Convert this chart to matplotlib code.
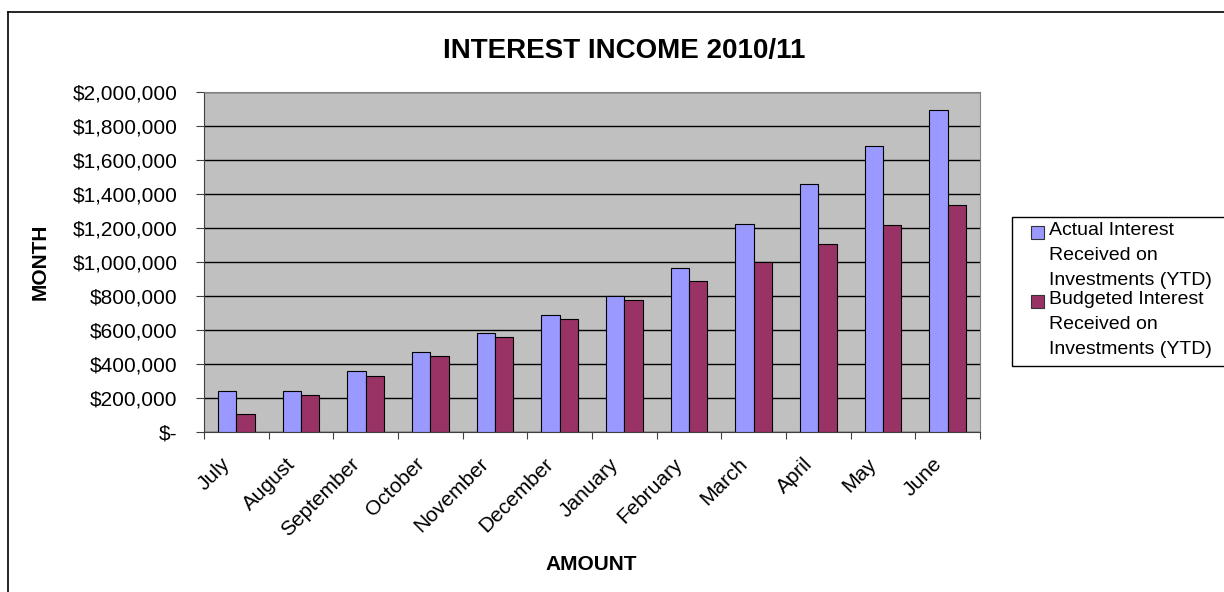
import numpy as np
import matplotlib
matplotlib.use("Agg")
import matplotlib.pyplot as plt
from matplotlib.patches import Rectangle
from matplotlib.lines import Line2D
from matplotlib.ticker import FuncFormatter, FixedLocator
from matplotlib.transforms import ScaledTranslation

plt.rcParams["font.family"] = ["Liberation Sans", "DejaVu Sans"]

# ── Data ──────────────────────────────────────────────────────────────────────
months = ["July", "August", "September", "October", "November", "December",
          "January", "February", "March", "April", "May", "June"]
actual = [241000, 241000, 359000, 470000, 580000, 688000,
          800000, 967000, 1226000, 1461000, 1682000, 1896000]
budget = [108000, 220000, 329000, 447000, 557000, 667000,
          776000, 888000, 998000, 1108000, 1218000, 1335000]
series_names = ["Actual Interest\nReceived on\nInvestments (YTD)",
                "Budgeted Interest\nReceived on\nInvestments (YTD)"]

C_ACTUAL = "#9999FF"
C_BUDGET = "#993366"
C_PLOT_BG = "#C0C0C0"

fig = plt.figure(figsize=(12.24, 5.92), dpi=100)
W, H = 1224, 592


def fx(px):
    return px / W


def fy(py):
    return 1 - py / H


# outer chart frame (cut off at right/bottom like the reference)
fig.add_artist(Line2D([fx(8), fx(8)], [0, fy(12)], color="black", lw=1.2,
                      transform=fig.transFigure))
fig.add_artist(Line2D([fx(8), 1], [fy(12), fy(12)], color="black", lw=1.2,
                      transform=fig.transFigure))

ax = fig.add_axes([fx(204), fy(432), fx(980 - 204), (432 - 92) / H])
ax.set_facecolor(C_PLOT_BG)

x = np.arange(len(months))
w = 0.283
ax.bar(x - w / 2, actual, w, color=C_ACTUAL, edgecolor="black", lw=0.8, zorder=3)
ax.bar(x + w / 2, budget, w, color=C_BUDGET, edgecolor="black", lw=0.8, zorder=3)

ax.set_xlim(-0.5, len(months) - 0.5)
ax.set_ylim(0, 2000000)
ax.set_yticks(np.arange(0, 2000001, 200000))
ax.yaxis.set_major_formatter(FuncFormatter(
    lambda v, p: "$-" if v == 0 else f"${v:,.0f}"))
ax.grid(axis="y", color="black", lw=1, zorder=1)
ax.set_axisbelow(True)

# boundary ticks on x, labels at category centres
ax.xaxis.set_major_locator(FixedLocator(np.arange(-0.5, len(months), 1.0)))
ax.xaxis.set_minor_locator(FixedLocator(x))
ax.set_xticklabels([])
ax.set_xticklabels(months, minor=True, rotation=45, ha="right", va="center",
                   rotation_mode="anchor")
ax.tick_params(axis="x", which="major", length=5, color="#404040")
ax.tick_params(axis="x", which="minor", length=0, pad=21, labelsize=15)
ax.tick_params(axis="y", length=6, color="#404040", labelsize=15, pad=13)
shift = ScaledTranslation(-9 / 100, 0, fig.dpi_scale_trans)
for lab in ax.get_xticklabels(minor=True):
    lab.set_transform(lab.get_transform() + shift)

for s in ["top", "right"]:
    ax.spines[s].set_color("#808080")
ax.spines["left"].set_color("#404040")
ax.spines["bottom"].set_color("#404040")

fig.text(fx(624), fy(51), "INTEREST INCOME 2010/11", ha="center",
         va="center", fontsize=20, fontweight="bold")
fig.text(fx(591), fy(565), "AMOUNT", ha="center", va="center",
         fontsize=15, fontweight="bold")
fig.text(fx(40), fy(262), "MONTH", ha="center", va="center",
         rotation=90, fontsize=15, fontweight="bold")

# legend box drawn as in the reference (entries nearly touch)
fig.add_artist(Rectangle((fx(1012), fy(366)), fx(230), (366 - 217) / H,
                         transform=fig.transFigure, facecolor="white",
                         edgecolor="black", lw=1, clip_on=False))
for name, col, top in [(series_names[0], C_ACTUAL, 222),
                       (series_names[1], C_BUDGET, 291)]:
    fig.add_artist(Rectangle((fx(1031), fy(top + 17)), fx(13), 13 / H,
                             transform=fig.transFigure, facecolor=col,
                             edgecolor="#333333", lw=0.8))
    fig.text(fx(1049), fy(top), name, ha="left", va="top", fontsize=14,
             linespacing=1.6)

plt.savefig("out.png", dpi=100)
